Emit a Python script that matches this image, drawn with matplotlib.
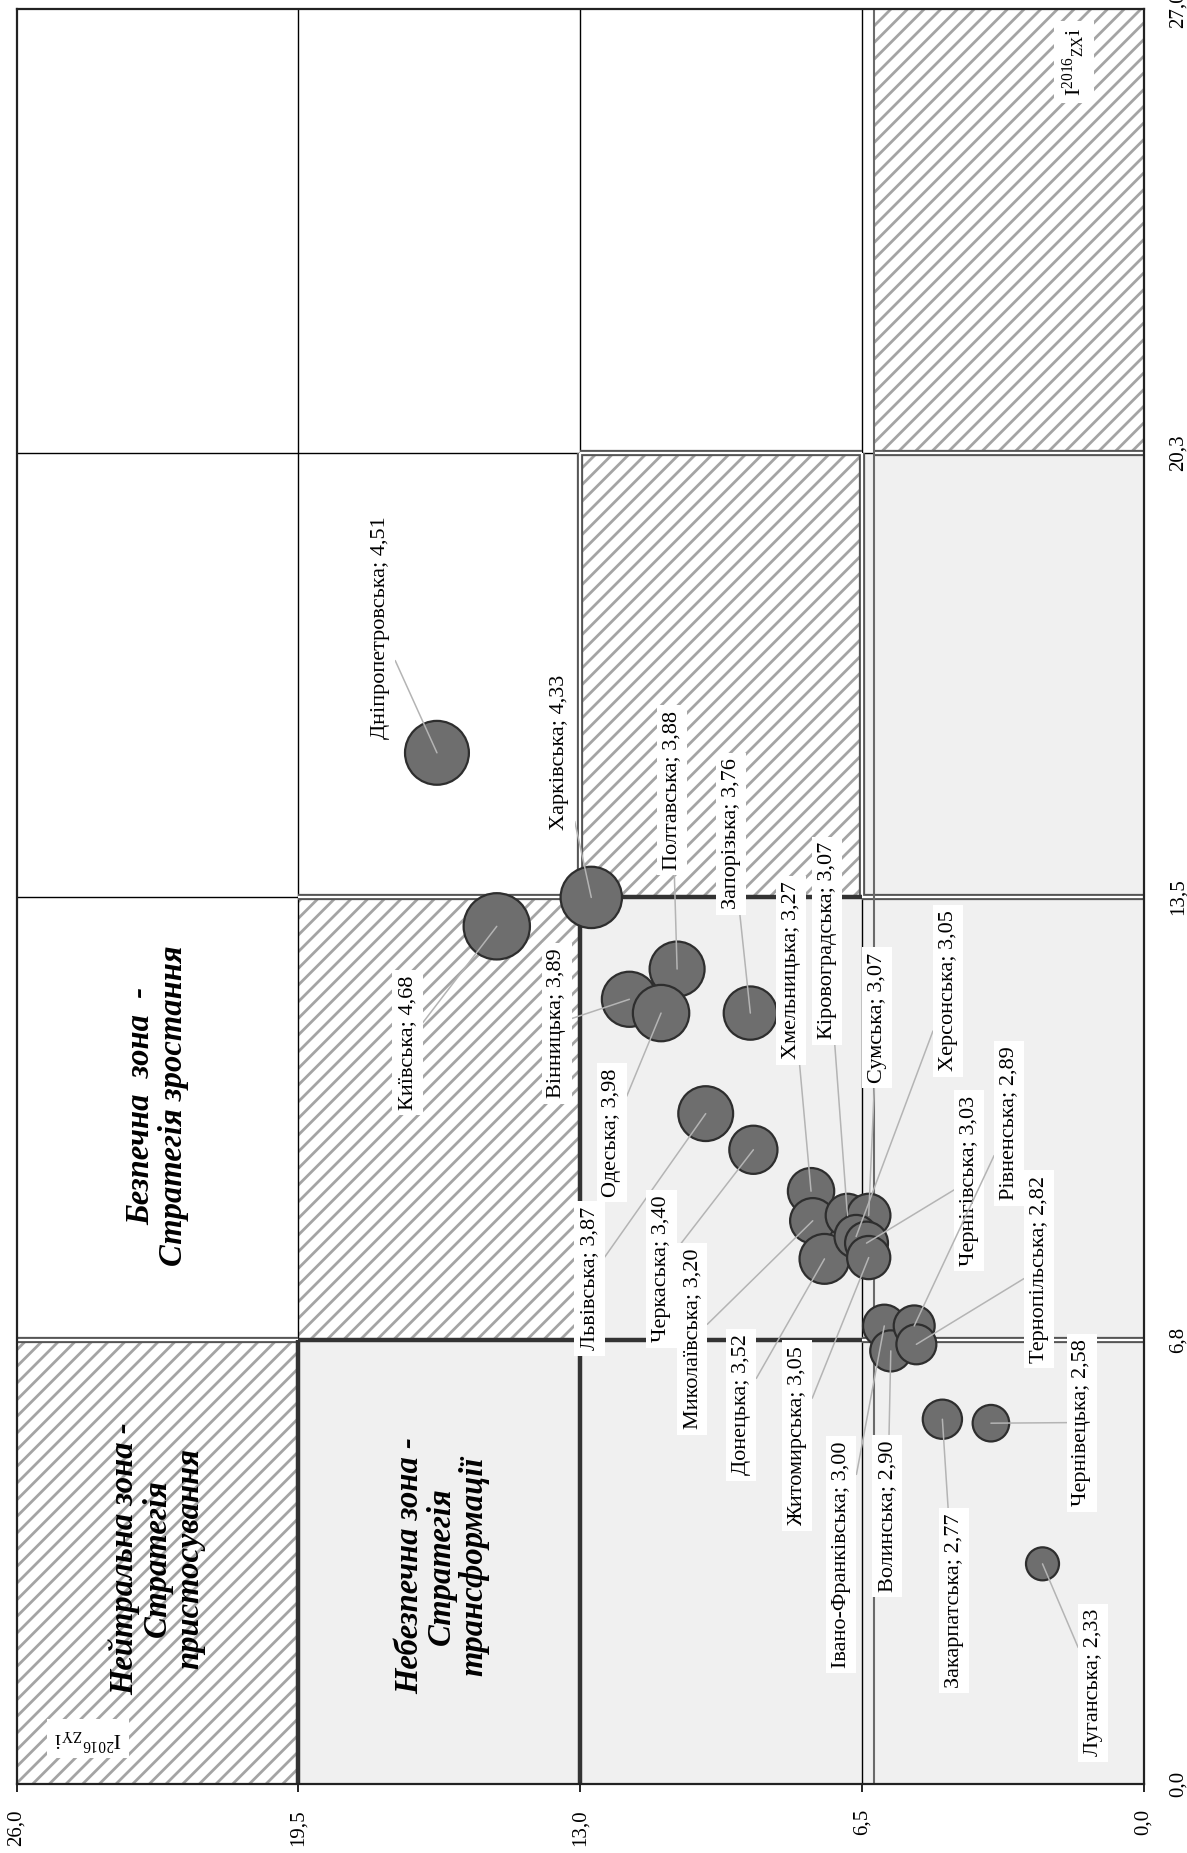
import numpy as np
import matplotlib.pyplot as plt
from matplotlib.patches import Rectangle

plt.rcParams['font.family'] = ['Liberation Serif', 'DejaVu Serif']
plt.rcParams['mathtext.fontset'] = 'custom'
plt.rcParams['mathtext.rm'] = 'Liberation Serif'
plt.rcParams['mathtext.it'] = 'Liberation Serif:italic'
plt.rcParams['hatch.linewidth'] = 2.0

# regions of Ukraine, I_ZX (vertical), I_ZY (horizontal, reversed), bubble value
regions = ['Дніпропетровська', 'Харківська', 'Київська', 'Полтавська', 'Вінницька',
           'Одеська', 'Запорізька', 'Львівська', 'Черкаська', 'Хмельницька',
           'Миколаївська', 'Донецька', 'Кіровоградська', 'Сумська', 'Херсонська',
           'Чернігівська', 'Житомирська', 'Івано-Франківська', 'Волинська',
           'Рівненська', 'Тернопільська', 'Закарпатська', 'Чернівецька', 'Луганська']
score = [4.51, 4.33, 4.68, 3.88, 3.89, 3.98, 3.76, 3.87, 3.40, 3.27, 3.20, 3.52,
         3.07, 3.07, 3.05, 3.03, 3.05, 3.00, 2.90, 2.89, 2.82, 2.77, 2.58, 2.33]
zx = [15.69, 13.49, 13.05, 12.40, 11.94, 11.73, 11.73, 10.20, 9.65, 9.02, 8.57, 7.99,
      8.65, 8.65, 8.33, 8.23, 8.01, 6.97, 6.59, 6.97, 6.69, 5.55, 5.49, 3.35]
zy = [16.30, 12.74, 14.92, 10.76, 11.86, 11.13, 9.07, 10.10, 9.00, 7.67, 7.63, 7.36,
      6.83, 6.34, 6.63, 6.39, 6.34, 5.98, 5.83, 5.29, 5.24, 4.64, 3.52, 2.33]

# where the data labels sit
lab_zx = [17.60, 15.70, 11.28, 15.12, 11.57, 9.91, 14.46, 7.69, 7.84, 12.38, 6.77, 5.77,
          12.83, 11.66, 12.07, 9.18, 5.30, 3.49, 4.08, 10.05, 7.83, 2.79, 5.50, 1.54]
lab_zy = [17.61, 13.47, 16.98, 10.88, 13.54, 12.27, 9.51, 12.78, 11.12, 8.13, 10.41, 9.28,
          7.30, 6.14, 4.51, 4.02, 7.99, 6.97, 5.91, 3.10, 2.41, 4.37, 1.42, 1.16]

zy_edges = [0, 6.5, 13, 19.5, 26]
zx_edges = [0, 6.75, 13.5, 20.25, 27]
zy_labels = ['0,0', '6,5', '13,0', '19,5', '26,0']
zx_labels = ['0,0', '6,8', '13,5', '20,3', '27,0']

W, H = 1187, 1853
fig = plt.figure(figsize=(W / 100, H / 100), dpi=100)
ax = fig.add_axes([16.5 / W, 1 - 1784 / H, (1143.5 - 16.5) / W, (1784 - 9.5) / H])
ax.set_xlim(26, 0)
ax.set_ylim(0, 27)

# zone cells: below anti-diagonal dangerous (grey), on it neutral (hatched), above safe (white)
for i in range(4):
    for j in range(4):
        x0, x1 = zy_edges[j], zy_edges[j + 1]
        y0, y1 = zx_edges[i], zx_edges[i + 1]
        if i + j < 3:
            ax.add_patch(Rectangle((x0, y0), x1 - x0, y1 - y0, fc='#f0f0f0', ec='none', zorder=0))
        elif i + j == 3:
            if j == 0:
                x1 = 6.22
            ax.add_patch(Rectangle((x0, y0), x1 - x0, y1 - y0, fc='white', ec='#a4a4a4',
                                   lw=0, hatch='//', zorder=0))

def seg(x, y, kind):
    if kind == 'thin':
        ax.plot(x, y, color='black', lw=1.0, zorder=1, solid_capstyle='butt')
    elif kind == 'thick':
        ax.plot(x, y, color='#333333', lw=3.2, zorder=1.3, solid_capstyle='butt')
    else:
        ax.plot(x, y, color='#555555', lw=4.5, zorder=1.1, solid_capstyle='butt')
        ax.plot(x, y, color='white', lw=1.6, zorder=1.2, solid_capstyle='butt')

for v in [6.5, 13, 19.5]:
    seg([v, v], [0, 27], 'thin')
for h in [6.75, 13.5, 20.25]:
    seg([0, 26], [h, h], 'thin')

# double borders around the neutral cells and the right column
seg([19.5, 26], [6.75, 6.75], 'double')
seg([13, 19.5], [13.5, 13.5], 'double')
seg([6.5, 13], [20.25, 20.25], 'double')
seg([13, 13], [13.5, 20.25], 'double')
seg([6.5, 6.5], [13.5, 20.25], 'double')
seg([0, 6.22], [20.25, 20.25], 'double')
seg([0, 6.5], [6.75, 6.75], 'double')
seg([0, 6.5], [13.5, 13.5], 'double')
ax.plot([6.22, 6.22], [0, 27], color='#6a6a6a', lw=1.5, zorder=1.2)

# heavy outline of the dangerous zone
seg([19.5, 19.5], [0, 6.75], 'thick')
seg([13, 13], [0, 13.5], 'thick')
seg([6.5, 19.5], [6.75, 6.75], 'thick')
seg([6.5, 13], [13.5, 13.5], 'thick')

ax.scatter(zy, zx, s=(10.2 * np.array(score)) ** 2, c='#6e6e6e', edgecolors='#2e2e2e',
           linewidths=1.6, zorder=2)

for name, v, x, y, lx, ly in zip(regions, score, zx, zy, lab_zx, lab_zy):
    txt = f'{name}; {v:.2f}'.replace('.', ',')
    ax.annotate(txt, xy=(y, x), xytext=(ly, lx), rotation=90, ha='center', va='center',
                fontsize=16, zorder=4,
                bbox=dict(boxstyle='square,pad=0.25', fc='white', ec='none'),
                arrowprops=dict(arrowstyle='-', color='#b4b4b4', lw=1.1, shrinkA=0, shrinkB=0))

zone_font = dict(fontsize=23.5, fontweight='bold', fontstyle='italic', rotation=90,
                 ha='center', va='center', multialignment='center', linespacing=1.05, zorder=3)
ax.text(22.76, 10.32, 'Безпечна  зона  -\nСтратегія зростання', **zone_font)
ax.text(22.76, 3.43, 'Нейтральна зона -\nСтратегія\nпристосування', **zone_font)
ax.text(16.19, 3.32, 'Небезпечна зона -\nСтратегія\nтрансформації', **zone_font)

box = dict(boxstyle='square,pad=0.3', fc='white', ec='none')
ax.text(1.60, 26.2, r'$\mathregular{I^{2016}{}_{ZX}i}$', fontsize=16, rotation=90,
        ha='center', va='center', bbox=box, zorder=3)
ax.text(24.35, 0.69, r'$\mathregular{I^{2016}{}_{ZY}i}$', fontsize=16, rotation=180,
        ha='center', va='center', bbox=box, zorder=3)

ax.set_xticks(zy_edges, labels=zy_labels)
ax.tick_params(axis='x', length=6, width=1.2, pad=12, labelsize=15, labelrotation=90)
ax.yaxis.tick_right()
ax.set_yticks(zx_edges, labels=zx_labels)
ax.tick_params(axis='y', length=0, pad=18, labelsize=15, labelrotation=90)
for t in ax.get_yticklabels():
    t.set_va('center')
for sp in ax.spines.values():
    sp.set_linewidth(1.6)
    sp.set_color('#222222')

fig.savefig('out.png', dpi=100)
